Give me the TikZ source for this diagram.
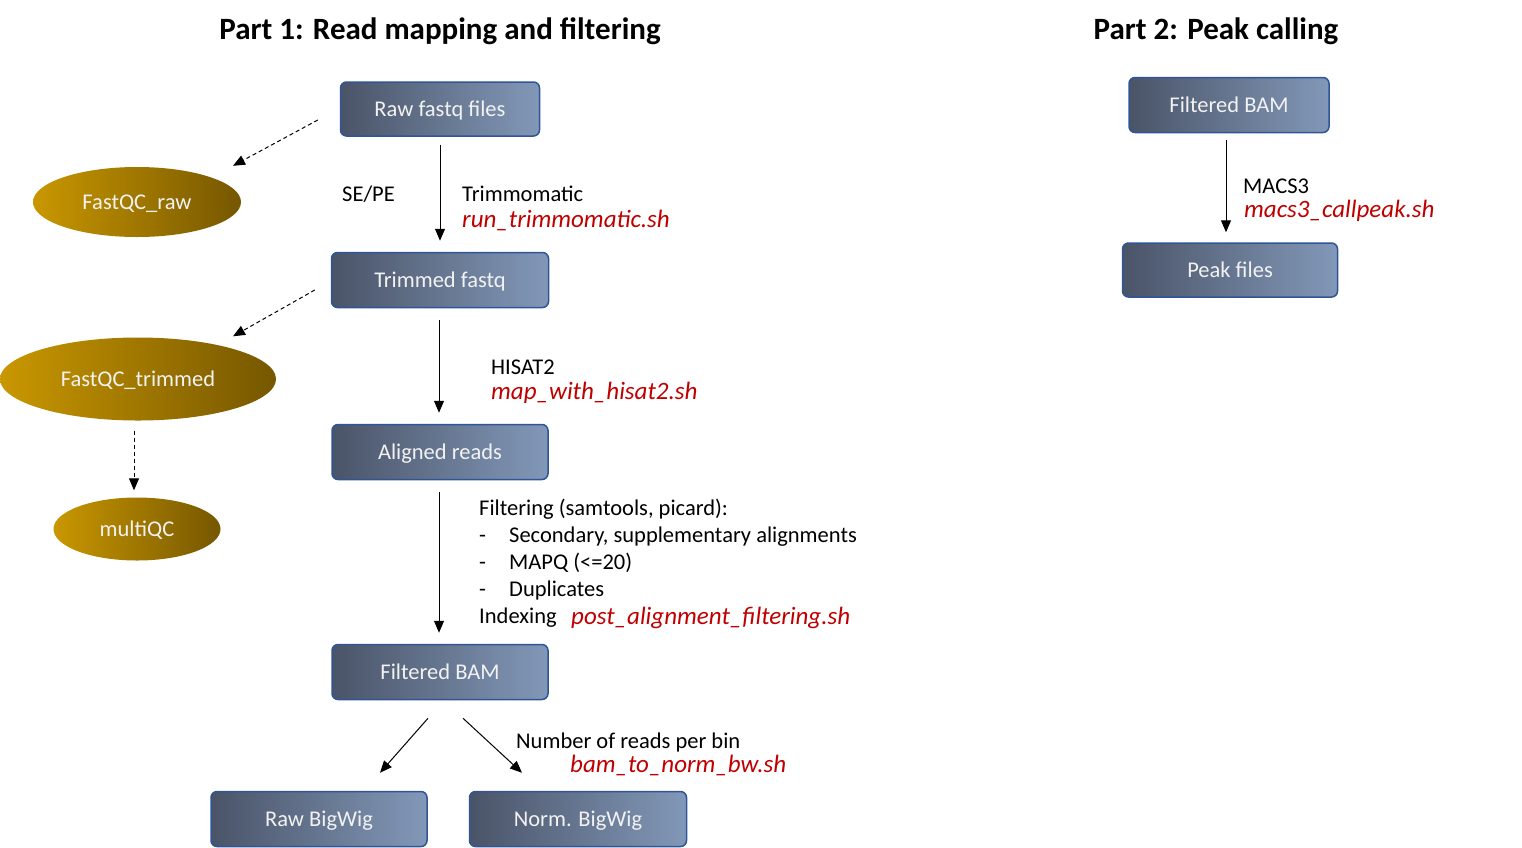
\documentclass[tikz,border=0pt]{standalone}
\usepackage{fontspec}
\setmainfont{Carlito}
\usepackage{xcolor}
\usepackage{tikz}
\usetikzlibrary{shapes.geometric, arrows.meta, positioning}
\definecolor{flowslate}{HTML}{4A5468}
\definecolor{flowsteel}{HTML}{8298B8}
\definecolor{flowedge}{HTML}{2F5597}
\definecolor{flowgold}{HTML}{C99700}
\definecolor{flowbronze}{HTML}{765700}
\definecolor{flowred}{HTML}{C00000}
\tikzset{
  stepbox/.style={rectangle, rounded corners=6pt, left color=flowslate, right color=flowsteel,
    draw=flowedge, line width=1.5pt, text=white!95!black, inner sep=0pt,
    text height=16pt, text depth=1pt, font=\fontsize{22.5}{26}\selectfont},
  qcblob/.style={ellipse, left color=flowgold, right color=flowbronze, text=white!95!black,
    inner sep=0pt, text height=16pt, text depth=1pt, font=\fontsize{22.5}{26}\selectfont},
  flow/.style={-{Triangle[length=12pt,width=10pt]}, line width=1pt},
  qcflow/.style={flow, dash pattern=on 4pt off 3pt},
  tool/.style={anchor=base west, inner sep=0pt, font=\fontsize{22.5}{26}\selectfont},
  script/.style={tool, text=flowred, font=\fontsize{25}{29}\selectfont\itshape},
  heading/.style={inner sep=0pt, font=\fontsize{31}{36}\selectfont\bfseries}
}

\begin{document}
\begin{tikzpicture}[x=1pt, y=-1pt]
  \useasboundingbox (0,0) rectangle (1522,847);
  % titles
  \node[heading] (title1) at (440,31) {Part 1: Read mapping and filtering};
  \node[heading] (title2) at (1216,31) {Part 2: Peak calling};

  % part 1
  \node[stepbox, minimum width=199pt, minimum height=54pt] (raw) at (440,109) {Raw fastq files};
  \node[stepbox, minimum width=217pt, minimum height=55pt] (trim) at (440,280) {Trimmed fastq};
  \node[stepbox, minimum width=216pt, minimum height=55pt] (aln) at (440,452) {Aligned reads};
  \node[stepbox, minimum width=216pt, minimum height=55pt] (filt) at (440,672) {Filtered BAM};
  \node[stepbox, minimum width=216pt, minimum height=55pt] (rawbw) at (319,819) {Raw BigWig};
  \node[stepbox, minimum width=217pt, minimum height=55pt] (normbw) at (578,819) {Norm. BigWig};

  \node[qcblob, minimum width=208pt, minimum height=70pt] (qcraw) at (137,202) {FastQC\_raw};
  \node[qcblob, minimum width=276pt, minimum height=83pt] (qctrim) at (138,379) {FastQC\_trimmed};
  \node[qcblob, minimum width=167pt, minimum height=63pt] (multiqc) at (137,529) {multiQC};

  \draw[flow, shorten <=8pt, shorten >=11pt] (raw) -- (trim);
  \draw[flow, shorten <=12pt, shorten >=11pt] ([xshift=-1pt]trim.south) -- ([xshift=-1pt]aln.north);
  \draw[flow, shorten <=12pt, shorten >=11pt] ([xshift=-1pt]aln.south) -- ([xshift=-1pt]filt.north);
  \draw[flow] ([xshift=-12pt, yshift=-18pt]filt.south) -- ([xshift=61pt, yshift=18pt]rawbw.north);
  \draw[flow] ([xshift=23pt, yshift=-18pt]filt.south) -- ([xshift=-56pt, yshift=18pt]normbw.north);

  \draw[qcflow] ([xshift=-22pt, yshift=-11pt]raw.west) -- ([xshift=96pt, yshift=1pt]qcraw.north);
  \draw[qcflow] ([xshift=-16pt, yshift=-10pt]trim.west) -- ([xshift=95pt, yshift=1pt]qctrim.north);
  \draw[qcflow, shorten <=10pt, shorten >=7pt] ([xshift=-4pt]qctrim.south) -- ([xshift=-3pt]multiqc.north);

  \node[tool] (sepe) at (342,201) {SE/PE};
  \node[tool] (trimtool) at (462,201) {Trimmomatic};
  \node[script] (trimsh) at (462,227) {run\_trimmomatic.sh};
  \node[tool] (hisat) at (491,374) {HISAT2};
  \node[script] (hisatsh) at (491,399) {map\_with\_hisat2.sh};
  \node[tool, anchor=north west, align=left, font=\fontsize{22.5}{27}\selectfont] (filtsteps) at (479,499)
    {Filtering (samtools, picard):\\
     \makebox[30pt][l]{-}Secondary, supplementary alignments\\
     \makebox[30pt][l]{-}MAPQ (<=20)\\
     \makebox[30pt][l]{-}Duplicates\\
     Indexing};
  \node[script] (filtsh) at (571,624) {post\_alignment\_filtering.sh};
  \node[tool] (binlbl) at (516,748) {Number of reads per bin};
  \node[script] (bwsh) at (570,772) {bam\_to\_norm\_bw.sh};

  % part 2
  \node[stepbox, minimum width=200pt, minimum height=55pt] (bam2) at (1229,105) {Filtered BAM};
  \node[stepbox, minimum width=215pt, minimum height=54pt] (peak) at (1230,270) {Peak files};
  \draw[flow, shorten <=7pt, shorten >=10pt] ([xshift=-3pt]bam2.south) -- ([xshift=-4pt]peak.north);
  \node[tool] (macs) at (1243,193) {MACS3};
  \node[script] (macssh) at (1244,217) {macs3\_callpeak.sh};
\end{tikzpicture}
\end{document}
